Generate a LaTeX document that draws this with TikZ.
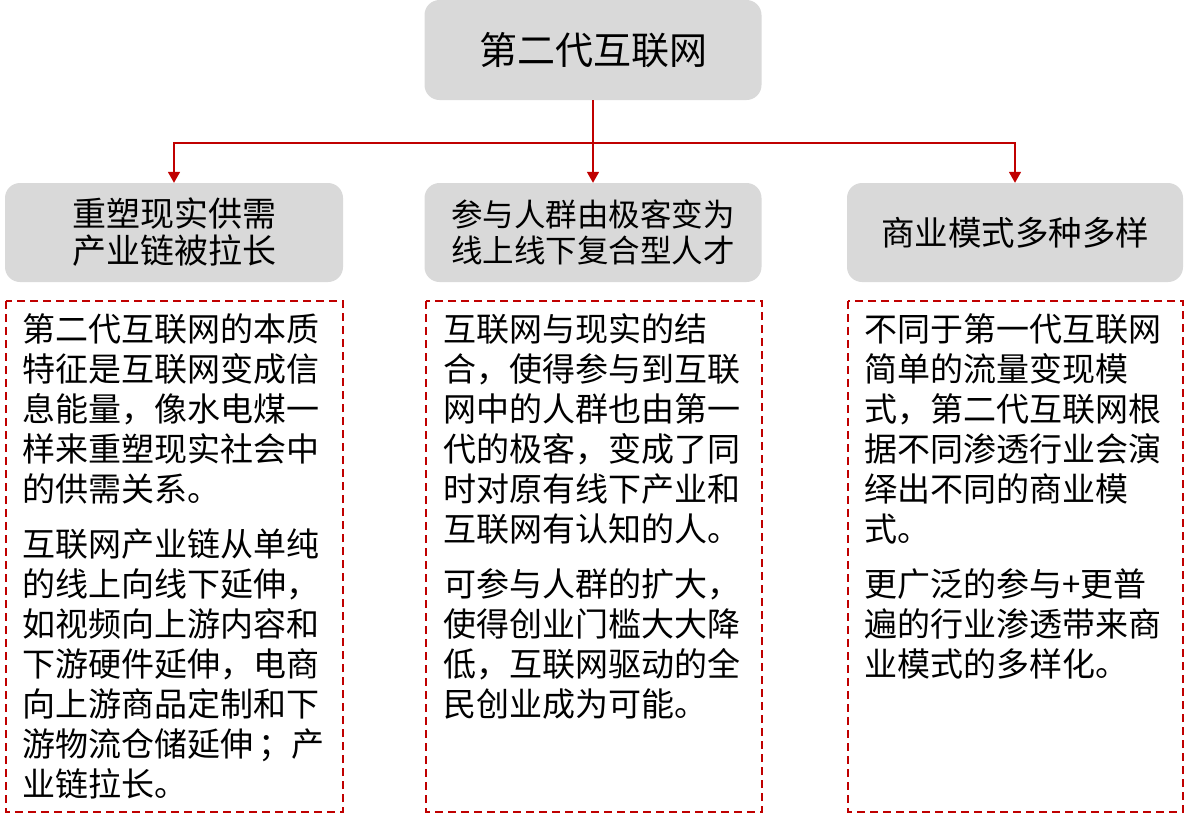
\documentclass[tikz,border=0pt]{standalone}
\usepackage{fontspec}
\setmainfont{Noto Sans CJK SC}
\usetikzlibrary{arrows.meta}
\definecolor{boxgray}{HTML}{D9D9D9}
\definecolor{linered}{HTML}{C00000}
\tikzset{
  graybox/.style={draw=none, fill=boxgray, rounded corners=15pt, inner sep=0pt, align=center, text=black},
  dashbox/.style={draw=linered, line width=1.6pt, dash pattern=on 8pt off 5pt},
  bodytext/.style={anchor=north west, inner sep=0pt, align=left, font=\fontsize{33}{40}\selectfont},
  conn/.style={draw=linered, line width=1.6pt},
  arr/.style={conn, -{Triangle[length=11pt,width=12pt]}}
}
\begin{document}
\begin{tikzpicture}[x=1pt,y=-1pt]
\useasboundingbox (0,0) rectangle (1185,820);
% top
\node[graybox, minimum width=337pt, minimum height=100pt, font=\fontsize{38}{40}\selectfont] (top) at (593,50) {第二代互联网};
% headers
\node[graybox, minimum width=338pt, minimum height=99pt, font=\fontsize{34}{37}\selectfont] (h1) at (174,232.5) {重塑现实供需\\产业链被拉长};
\node[graybox, minimum width=337pt, minimum height=99pt, font=\fontsize{31.5}{36}\selectfont] (h2) at (593,232.5) {参与人群由极客变为\\线上线下复合型人才};
\node[graybox, minimum width=336pt, minimum height=99pt, font=\fontsize{33.5}{36}\selectfont] (h3) at (1015,232.5) {商业模式多种多样};
% connectors
\coordinate (hub) at (593,143);
\draw[conn] (top.south) -- (hub);
\draw[arr] (hub) -| (h1.north);
\draw[arr] (hub) -- (h2.north);
\draw[arr] (hub) -| (h3.north);
% dashed boxes
\draw[dashbox] (6,301) rectangle (343,812);
\draw[dashbox] (426,301) rectangle (762,812);
\draw[dashbox] (848,301) rectangle (1183,812);
% texts
\node[bodytext] (t1a) at (22,313) {第二代互联网的本质\\特征是互联网变成信\\息能量，像水电煤一\\样来重塑现实社会中\\的供需关系。};
\node[bodytext] (t1b) at (22,528) {互联网产业链从单纯\\的线上向线下延伸，\\如视频向上游内容和\\下游硬件延伸，电商\\向上游商品定制和下\\游物流仓储延伸\,；产\\业链拉长。};
\node[bodytext] (t2a) at (443,313) {互联网与现实的结\\合，使得参与到互联\\网中的人群也由第一\\代的极客，变成了同\\时对原有线下产业和\\互联网有认知的人。};
\node[bodytext] (t2b) at (443,568) {可参与人群的扩大，\\使得创业门槛大大降\\低，互联网驱动的全\\民创业成为可能。};
\node[bodytext] (t3a) at (864,313) {不同于第一代互联网\\简单的流量变现模\\式，第二代互联网根\\据不同渗透行业会演\\绎出不同的商业模\\式。};
\node[bodytext] (t3b) at (864,568) {更广泛的参与+更普\\遍的行业渗透带来商\\业模式的多样化。};
\end{tikzpicture}
\end{document}
